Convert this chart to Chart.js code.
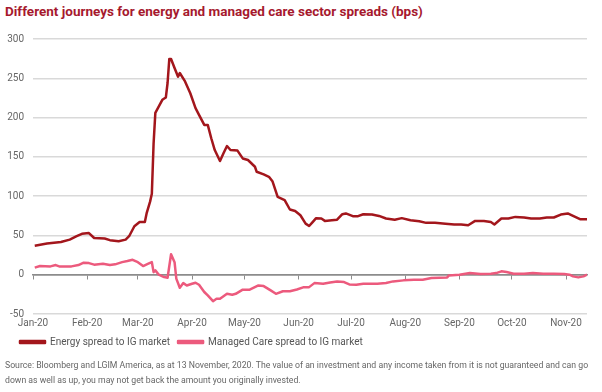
<!DOCTYPE html>
<html>
<head>
<meta charset="utf-8">
<script src="https://cdn.jsdelivr.net/npm/chart.js@4.4.1/dist/chart.umd.min.js"></script>
<style>
  html, body { margin: 0; padding: 0; background: #fff; }
  body { width: 602px; height: 392px; position: relative; overflow: hidden; font-family: Roboto, sans-serif; }
  #title { position: absolute; left: 5px; top: 3px; font: bold 13.5px Roboto, sans-serif; color: #a6192e; white-space: nowrap; }
  #chart { position: absolute; left: 0; top: 0; }
  #source { position: absolute; left: 5px; top: 358px; font: 8.7px Roboto, sans-serif; line-height: 15px; color: #666; white-space: nowrap; }
</style>
</head>
<body>
<div id="title">Different journeys for energy and managed care sector spreads (bps)</div>
<canvas id="chart" width="602" height="392"></canvas>
<div id="source">Source: Bloomberg and LGIM America, as at 13 November, 2020. The value of an investment and any income taken from it is not guaranteed and can go<br>down as well as up, you may not get back the amount you originally invested.</div>
<script>
const monthLabels = ['Jan-20', 'Feb-20', 'Mar-20', 'Apr-20', 'May-20', 'Jun-20', 'Jul-20', 'Aug-20', 'Sep-20', 'Oct-20', 'Nov-20'];
const monthDates = ['2020-01-01', '2020-02-01', '2020-03-01', '2020-04-01', '2020-05-01', '2020-06-01', '2020-07-01', '2020-08-01', '2020-09-01', '2020-10-01', '2020-11-01'];

const energyDates = ['2020-01-02','2020-01-09','2020-01-17','2020-01-22','2020-01-26','2020-01-29',
  '2020-02-02','2020-02-05','2020-02-11','2020-02-14','2020-02-19','2020-02-23','2020-02-25','2020-02-28',
  '2020-03-02','2020-03-05','2020-03-06','2020-03-08','2020-03-09','2020-03-10','2020-03-11','2020-03-12','2020-03-15','2020-03-17','2020-03-18','2020-03-19','2020-03-20','2020-03-22','2020-03-24','2020-03-25','2020-03-28','2020-03-31',
  '2020-04-03','2020-04-05','2020-04-08','2020-04-10','2020-04-12','2020-04-14','2020-04-17','2020-04-19','2020-04-21','2020-04-23','2020-04-27','2020-04-30',
  '2020-05-03','2020-05-07','2020-05-08','2020-05-12','2020-05-15','2020-05-17','2020-05-20','2020-05-24','2020-05-27','2020-05-30',
  '2020-06-02','2020-06-05','2020-06-07','2020-06-09','2020-06-11','2020-06-14','2020-06-16','2020-06-20','2020-06-23','2020-06-26','2020-06-28',
  '2020-07-02','2020-07-05','2020-07-08','2020-07-13','2020-07-17','2020-07-21','2020-07-26','2020-07-30',
  '2020-08-04','2020-08-09','2020-08-13','2020-08-18','2020-08-24','2020-08-29',
  '2020-09-02','2020-09-06','2020-09-10','2020-09-15','2020-09-19','2020-09-21','2020-09-25','2020-09-29',
  '2020-10-03','2020-10-08','2020-10-12','2020-10-17','2020-10-21','2020-10-25','2020-10-29',
  '2020-11-02','2020-11-05','2020-11-09','2020-11-13'];
const energyValues = [37, 39.6, 41.6, 44.7, 49, 52,
  53, 46.7, 46, 44, 42.5, 44.7, 49, 61.7,
  67, 67, 78, 93, 103, 167, 206, 210, 222.6, 225.5, 244, 274.6, 274.6, 263, 252, 256.7, 246, 231,
  212, 203.5, 190.7, 190.7, 173.7, 158.7, 144.7, 154.5, 163.8, 158.7, 158, 148,
  146, 137.4, 131, 127.7, 124.6, 119, 99, 95, 83, 81,
  75.7, 65, 62, 67, 72, 71.5, 68.5, 69.3, 70, 77, 78,
  74.5, 74.5, 77, 76.6, 74.8, 71.5, 70, 72,
  69.3, 68, 66, 66, 65, 64,
  64, 63, 68.5, 68.5, 67, 64, 71.5, 71.5,
  73.6, 72.8, 71.5, 71.5, 72.8, 72.8, 76.6,
  78, 74.8, 70.6, 70.6];

const careDates = ['2020-01-02','2020-01-05','2020-01-11','2020-01-14','2020-01-16','2020-01-23','2020-01-27','2020-01-30',
  '2020-02-02','2020-02-05','2020-02-10','2020-02-14','2020-02-17','2020-02-21','2020-02-24','2020-02-27',
  '2020-03-01','2020-03-04','2020-03-07','2020-03-09','2020-03-10','2020-03-11','2020-03-13','2020-03-16','2020-03-18','2020-03-20','2020-03-22','2020-03-23','2020-03-25','2020-03-27','2020-03-29',
  '2020-04-01','2020-04-03','2020-04-05','2020-04-08','2020-04-10','2020-04-13','2020-04-15','2020-04-17','2020-04-21','2020-04-24','2020-04-26','2020-04-30',
  '2020-05-04','2020-05-09','2020-05-12','2020-05-16','2020-05-19','2020-05-23','2020-05-27','2020-05-31',
  '2020-06-04','2020-06-07','2020-06-10','2020-06-15','2020-06-19','2020-06-23','2020-06-27','2020-06-30',
  '2020-07-04','2020-07-08','2020-07-12','2020-07-16','2020-07-21','2020-07-25','2020-07-31',
  '2020-08-06','2020-08-11','2020-08-16','2020-08-25','2020-08-26',
  '2020-09-01','2020-09-07','2020-09-13','2020-09-19','2020-09-22','2020-09-25','2020-09-28',
  '2020-10-02','2020-10-08','2020-10-13','2020-10-19','2020-10-25','2020-10-31',
  '2020-11-03','2020-11-05','2020-11-08','2020-11-11','2020-11-13'];
const careValues = [9, 11, 10.6, 12.3, 10.6, 10.6, 12.3, 15.3,
  14.8, 12.8, 14, 12.3, 13.2, 16, 17.4, 19,
  16, 11, 14, 16, 3.3, 5.5, 0, -3, -3.8, 26, 16, -5, -16.6, -10.7, -13.7,
  -11.5, -10.2, -12.8, -22, -26.4, -33.7, -30.7, -30.7, -24.3, -25.5, -24.3, -19,
  -19, -13.7, -14.5, -20, -24.3, -21, -21, -18.8,
  -15.8, -15.8, -10.7, -11.5, -9.8, -8.6, -9.4, -12.4,
  -12.8, -11.5, -11.5, -11.5, -10.6, -8.5, -7.2,
  -6.4, -6.4, -4.3, -3.4, -0.9,
  0, 2.1, 0.9, 1.3, 2.1, 4.3, 3.4,
  1.3, 1.3, 2.1, 1.3, 1.3, 0.9,
  0, -2.1, -3.4, -2.1, 0];

// days since 1 Jan 2020, used as the x value
function dayOf(s) {
  const p = s.split('-').map(Number);
  return (Date.UTC(p[0], p[1] - 1, p[2]) - Date.UTC(2020, 0, 1)) / 864e5;
}
function toPoints(dates, values) {
  return dates.map((d, i) => ({ x: dayOf(d), y: values[i] }));
}
const monthTicks = (scale) => { scale.ticks = monthDates.map(d => ({ value: dayOf(d) })); };

const energyColor = '#a3161c';
const careColor = '#ec5a7d';

// nudge the legend a little to the right, like the original
const legendShift = {
    id: 'legendShift',
    afterLayout: (c) => { c.legend.left += 12; c.legend.right += 12; }
};

let ctx = document.getElementById('chart').getContext('2d');
let chart = new Chart(ctx, {
    type: 'line',
    data: {
        datasets: [{
            label: 'Energy spread to IG market',
            data: toPoints(energyDates, energyValues),
            borderColor: energyColor,
            backgroundColor: energyColor,
            borderWidth: 2.5,
            pointRadius: 0,
            tension: 0,
            borderJoinStyle: 'round'
        }, {
            label: 'Managed Care spread to IG market',
            data: toPoints(careDates, careValues),
            borderColor: careColor,
            backgroundColor: careColor,
            borderWidth: 2.5,
            pointRadius: 0,
            tension: 0,
            borderJoinStyle: 'round'
        }]
    },
    plugins: [legendShift],
    options: {
        responsive: false,
        animation: false,
        layout: { padding: { top: 39, right: 15, bottom: 35, left: 0 } },
        plugins: {
            title: { display: false },
            tooltip: { enabled: false },
            legend: {
                position: 'bottom',
                align: 'start',
                labels: {
                    boxWidth: 25,
                    boxHeight: 2,
                    padding: 8,
                    color: '#555',
                    font: { family: 'Roboto', size: 10 }
                }
            }
        },
        scales: {
            x: {
                type: 'linear',
                min: 0,
                max: 317,
                afterBuildTicks: monthTicks,
                afterFit: (s) => { s.height = 15; },
                grid: { display: false, drawTicks: false },
                border: { display: false },
                ticks: {
                    autoSkip: false,
                    maxRotation: 0,
                    padding: 3,
                    color: '#666',
                    font: { family: 'Roboto', size: 10 },
                    callback: (v, i) => monthLabels[i]
                }
            },
            xZero: {
                type: 'linear',
                position: { y: 0 },
                min: 0,
                max: 317,
                afterBuildTicks: monthTicks,
                grid: { drawOnChartArea: false, drawTicks: true, tickLength: 4, color: '#8c8c8c', lineWidth: 1 },
                border: { display: true, color: '#8c8c8c', width: 1.5 },
                ticks: { display: false }
            },
            y: {
                min: -50,
                max: 300,
                afterFit: (s) => { s.width = 33; },
                grid: {
                    drawTicks: false,
                    color: (c) => c.tick && c.tick.value === 0 ? '#8c8c8c' : '#d9d9d9',
                    lineWidth: 1.5
                },
                border: { display: false },
                ticks: {
                    stepSize: 50,
                    padding: 9,
                    color: '#666',
                    font: { family: 'Roboto', size: 10 }
                }
            }
        }
    }
});
</script>
</body>
</html>
